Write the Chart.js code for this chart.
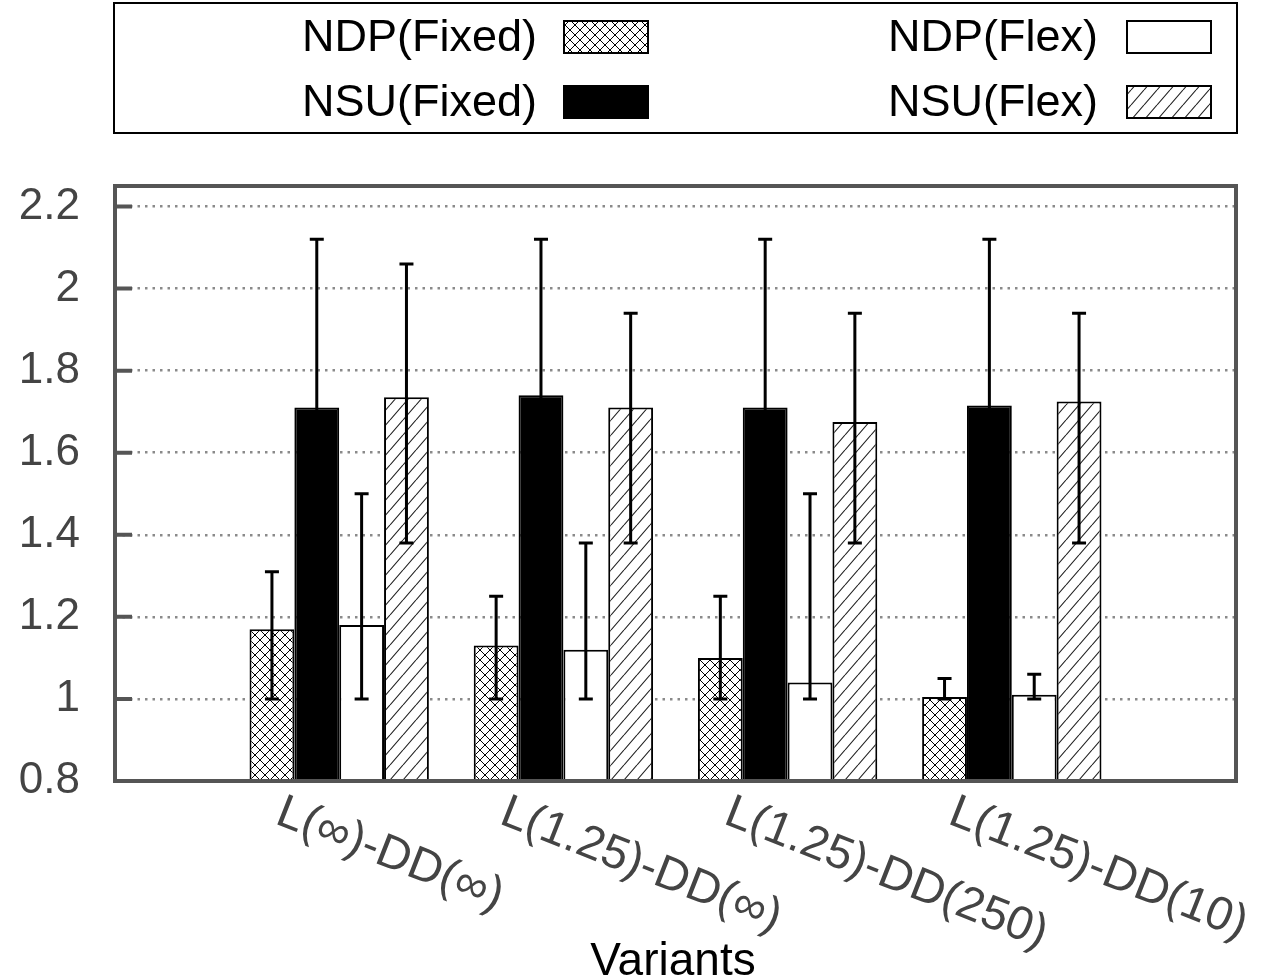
<!DOCTYPE html>
<html>
<head>
<meta charset="utf-8">
<title>Variants</title>
<script src="https://cdn.jsdelivr.net/npm/chart.js@4/dist/chart.umd.min.js"></script>
<style>
  html, body { margin: 0; padding: 0; background: #fff; }
  canvas { display: block; }
</style>
</head>
<body>
<canvas id="chart" width="1282" height="979"></canvas>
<script>
const categories = ['L(\u221e)-DD(\u221e)', 'L(1.25)-DD(\u221e)', 'L(1.25)-DD(250)', 'L(1.25)-DD(10)'];
const seriesNames = ['NDP(Fixed)', 'NSU(Fixed)', 'NDP(Flex)', 'NSU(Flex)'];

const ndpFixed = [1.17, 1.13, 1.10, 1.005];
const nsuFixed = [1.71, 1.74, 1.71, 1.715];
const ndpFlex = [1.18, 1.12, 1.04, 1.01];
const nsuFlex = [1.735, 1.71, 1.675, 1.725];

// error bar ranges
const ndpFixedLow = [1.0, 1.0, 1.0, 1.0];
const ndpFixedHigh = [1.31, 1.25, 1.25, 1.05];
const nsuFixedLow = [1.38, 1.38, 1.38, 1.38];
const nsuFixedHigh = [2.12, 2.12, 2.12, 2.12];
const ndpFlexLow = [1.0, 1.0, 1.0, 1.0];
const ndpFlexHigh = [1.5, 1.38, 1.5, 1.06];
const nsuFlexLow = [1.38, 1.38, 1.38, 1.38];
const nsuFlexHigh = [2.06, 1.94, 1.94, 1.94];

const yTicks = [0.8, 1, 1.2, 1.4, 1.6, 1.8, 2, 2.2];

const FONT = '"Liberation Sans", Arial, Helvetica, sans-serif';

// empty slot on each side of the four groups
const pad = arr => [null, ...arr, null];

function crossHatch() {
    const c = document.createElement('canvas');
    c.width = 10; c.height = 10;
    const g = c.getContext('2d');
    g.fillStyle = '#fff';
    g.fillRect(0, 0, 10, 10);
    g.strokeStyle = '#000';
    g.lineWidth = 1;
    g.beginPath();
    g.moveTo(-1, -1); g.lineTo(11, 11);
    g.moveTo(-1, 11); g.lineTo(11, -1);
    g.stroke();
    return g.createPattern(c, 'repeat');
}

function slashHatch() {
    const w = 13, h = 15;
    const c = document.createElement('canvas');
    c.width = w; c.height = h;
    const g = c.getContext('2d');
    g.fillStyle = '#fff';
    g.fillRect(0, 0, w, h);
    g.strokeStyle = '#222';
    g.lineWidth = 1.1;
    g.beginPath();
    for (let k = -1; k <= 1; k++) {
        g.moveTo(k * w, h); g.lineTo(k * w + w, 0);
    }
    g.stroke();
    return g.createPattern(c, 'repeat');
}

const fills = [crossHatch(), '#000', '#fff', slashHatch()];
const values = [ndpFixed, nsuFixed, ndpFlex, nsuFlex];
const lows = [ndpFixedLow, nsuFixedLow, ndpFlexLow, nsuFlexLow];
const highs = [ndpFixedHigh, nsuFixedHigh, ndpFlexHigh, nsuFlexHigh];

const datasets = seriesNames.map((name, i) => ({
    label: name,
    data: pad(values[i]),
    errLow: pad(lows[i]),
    errHigh: pad(highs[i]),
    backgroundColor: fills[i],
    borderColor: '#000',
    borderWidth: 2,
    borderSkipped: false,
    categoryPercentage: 0.8,
    barPercentage: 1.0
}));

const decorations = {
    id: 'decorations',
    afterDatasetsDraw(chart) {
        const ctx = chart.ctx;
        const y = chart.scales.y;
        ctx.save();
        ctx.strokeStyle = '#000';
        ctx.lineWidth = 3;
        chart.data.datasets.forEach((ds, i) => {
            chart.getDatasetMeta(i).data.forEach((bar, j) => {
                const lo = ds.errLow[j], hi = ds.errHigh[j];
                if (lo == null) return;
                const y0 = y.getPixelForValue(lo), y1 = y.getPixelForValue(hi);
                ctx.beginPath();
                ctx.moveTo(bar.x, y0); ctx.lineTo(bar.x, y1);
                ctx.moveTo(bar.x - 7, y0); ctx.lineTo(bar.x + 7, y0);
                ctx.moveTo(bar.x - 7, y1); ctx.lineTo(bar.x + 7, y1);
                ctx.stroke();
            });
        });
        ctx.restore();
    },
    afterDraw(chart) {
        const ctx = chart.ctx;
        const a = chart.chartArea;
        const x = chart.scales.x, y = chart.scales.y;
        ctx.save();

        // frame and inward tick marks
        ctx.strokeStyle = '#555';
        ctx.lineWidth = 4;
        ctx.strokeRect(a.left, a.top, a.right - a.left, a.bottom - a.top);
        ctx.beginPath();
        yTicks.slice(1).forEach(v => {
            const py = y.getPixelForValue(v);
            ctx.moveTo(a.left, py);
            ctx.lineTo(a.left + 17, py);
        });
        ctx.stroke();

        // slanted category labels
        ctx.fillStyle = '#444';
        ctx.font = '47px ' + FONT;
        ctx.textAlign = 'left';
        ctx.textBaseline = 'top';
        categories.forEach((c, i) => {
            const px = x.getPixelForValue(i + 1);
            ctx.save();
            ctx.translate(px - 52, a.bottom + 8);
            ctx.rotate(21.5 * Math.PI / 180);
            ctx.fillText(c, 0, 0);
            ctx.restore();
        });

        // axis title
        ctx.fillStyle = '#000';
        ctx.font = '46px ' + FONT;
        ctx.textAlign = 'center';
        ctx.textBaseline = 'alphabetic';
        ctx.fillText('Variants', 673, 975);

        // legend box
        ctx.lineWidth = 2;
        ctx.strokeStyle = '#000';
        ctx.strokeRect(114, 3, 1123, 130);
        ctx.font = '45px ' + FONT;
        ctx.textAlign = 'right';
        ctx.textBaseline = 'middle';
        const cols = [{ textX: 537, boxX: 564 }, { textX: 1098, boxX: 1127 }];
        const rows = [37, 102];
        const order = [0, 2, 1, 3];
        order.forEach((s, k) => {
            const col = cols[k % 2], row = rows[Math.floor(k / 2)];
            ctx.fillStyle = '#000';
            ctx.fillText(seriesNames[s], col.textX, row + 2);
            ctx.fillStyle = fills[s];
            ctx.fillRect(col.boxX, row - 16, 84, 32);
            ctx.strokeRect(col.boxX, row - 16, 84, 32);
        });

        ctx.restore();
    }
};

new Chart(document.getElementById('chart'), {
    type: 'bar',
    data: {
        labels: ['', ...categories, ''],
        datasets: datasets
    },
    options: {
        responsive: false,
        animation: false,
        devicePixelRatio: 1,
        layout: { padding: { top: 186, right: 46, bottom: 0, left: 0 } },
        plugins: {
            legend: { display: false },
            tooltip: { enabled: false }
        },
        scales: {
            x: {
                offset: false,
                grid: { display: false },
                border: { display: false },
                ticks: { display: false },
                afterFit: s => { s.height = 198; }
            },
            y: {
                min: 0.8,
                max: 2.25,
                afterBuildTicks: s => { s.ticks = yTicks.map(v => ({ value: v })); },
                afterFit: s => { s.width = 115; },
                grid: {
                    color: '#8a8a8a',
                    lineWidth: 2.5,
                    drawTicks: false
                },
                border: { display: false, dash: [2.5, 5] },
                ticks: {
                    padding: 35,
                    color: '#444',
                    font: { family: FONT, size: 44 },
                    callback: v => String(+v.toFixed(1))
                }
            }
        }
    },
    plugins: [decorations]
});
</script>
</body>
</html>
